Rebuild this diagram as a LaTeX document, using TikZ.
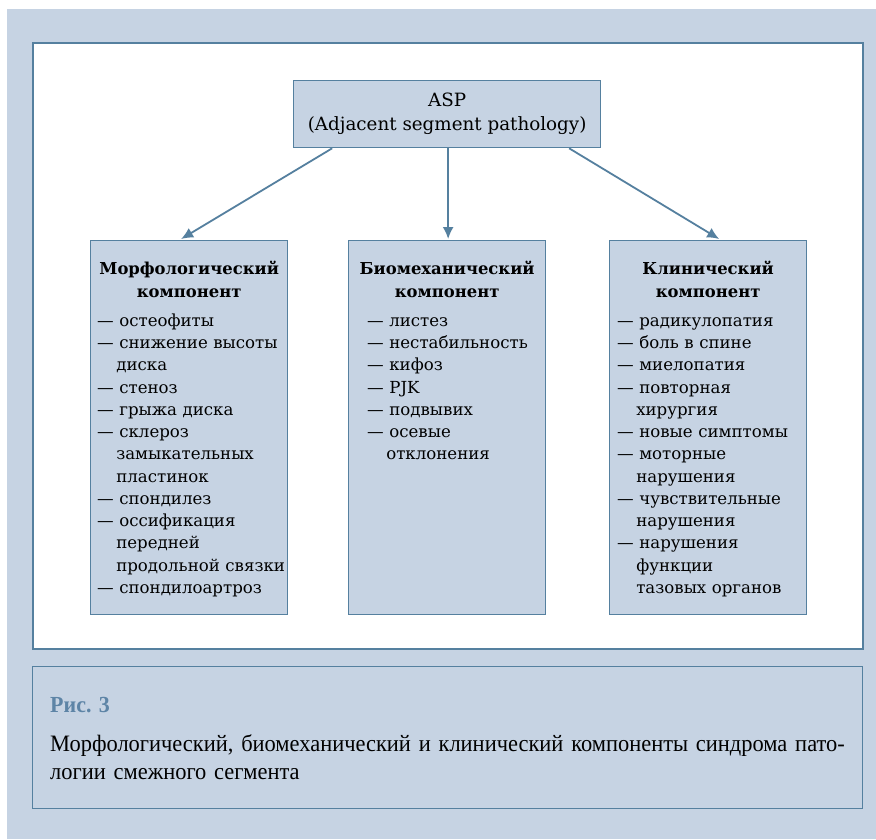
\documentclass[tikz,border=0pt]{standalone}
\usepackage{fontspec}
\setmainfont{DejaVu Serif}
\newfontfamily\capfont[FakeStretch=0.955]{Liberation Serif}
\usetikzlibrary{arrows.meta,positioning}
\definecolor{aspbg}{HTML}{C6D3E3}
\definecolor{aspline}{HTML}{55809F}
\definecolor{asptitle}{HTML}{5D84A6}
\newcommand{\itm}[1]{\par\hangindent=1.15em\hangafter=1\noindent —\ #1}
\tikzset{
  panel/.style={rectangle, draw=aspline, line width=1.3pt, fill=aspbg, anchor=north west, inner sep=0pt},
  comp/.style={panel, minimum width=197pt, minimum height=374pt},
  heading/.style={anchor=north, align=center, inner sep=0pt, font=\fontsize{16.4}{23}\selectfont\bfseries},
  itemlist/.style={anchor=north west, text width=195pt, align=left, inner sep=0pt, font=\fontsize{16.6}{22.25}\selectfont},
  flow/.style={draw=aspline, line width=1.8pt, -{Latex[length=12pt,width=11pt]}},
}

\begin{document}
\begin{tikzpicture}[x=1pt,y=-1pt]
  \useasboundingbox (0,0) rectangle (876,839);
  \fill[aspbg] (7,9) rectangle (876,839);
  \node[panel, fill=white, line width=2.4pt, minimum width=830pt, minimum height=606pt] (frame) at (32,42) {};
  \node[panel, line width=1pt, minimum width=830pt, minimum height=142pt] (capbox) at (32,666) {};

  \node[panel, minimum width=307pt, minimum height=67pt, align=center,
        font=\fontsize{18.3}{24}\selectfont] (asp) at (293,80) {ASP\\(Adjacent segment pathology)};

  \node[comp] (morph) at (90,240) {};
  \node[comp] (biomech) at (348,240) {};
  \node[comp] (clinic) at (609,240) {};

  \node[heading] (morphhead) at ([yshift=-21]morph.north) {Морфологический\\компонент};
  \node[heading] (biomechhead) at ([yshift=-21]biomech.north) {Биомеханический\\компонент};
  \node[heading] (clinichead) at ([yshift=-21]clinic.north) {Клинический\\компонент};

  \node[itemlist] (morphlist) at ([xshift=7,yshift=-64]morph.north west) {%
    \itm{остеофиты}\itm{снижение высоты\newline диска}\itm{стеноз}\itm{грыжа диска}%
    \itm{склероз\newline замыкательных\newline пластинок}\itm{спондилез}%
    \itm{оссификация\newline передней\newline продольной связки}\itm{спондилоартроз}\par};
  \node[itemlist] (biomechlist) at ([xshift=19,yshift=-64]biomech.north west) {%
    \itm{листез}\itm{нестабильность}\itm{кифоз}\itm{PJK}\itm{подвывих}%
    \itm{осевые\newline отклонения}\par};
  \node[itemlist] (cliniclist) at ([xshift=8,yshift=-64]clinic.north west) {%
    \itm{радикулопатия}\itm{боль в спине}\itm{миелопатия}\itm{повторная\newline хирургия}%
    \itm{новые симптомы}\itm{моторные\newline нарушения}\itm{чувствительные\newline нарушения}%
    \itm{нарушения\newline функции\newline тазовых органов}\par};

  \draw[flow] ([xshift=-115]asp.south) -- ([xshift=-8,yshift=1]morph.north);
  \draw[flow] ([xshift=1]asp.south) -- ([xshift=1,yshift=1]biomech.north);
  \draw[flow] ([xshift=122]asp.south) -- ([xshift=11,yshift=1]clinic.north);

  \node[anchor=north west, inner sep=0pt, text=asptitle, font=\capfont\fontsize{23}{28}\selectfont\bfseries] (figno) at (50,697) {Рис. 3};
  \node[anchor=north west, inner sep=0pt, text width=800pt, align=left, font=\capfont\fontsize{23.5}{28}\selectfont] (captext) at (50,734)
    {Морфологический, биомеханический и клинический компоненты синдрома пато-\\логии смежного сегмента};
\end{tikzpicture}
\end{document}
